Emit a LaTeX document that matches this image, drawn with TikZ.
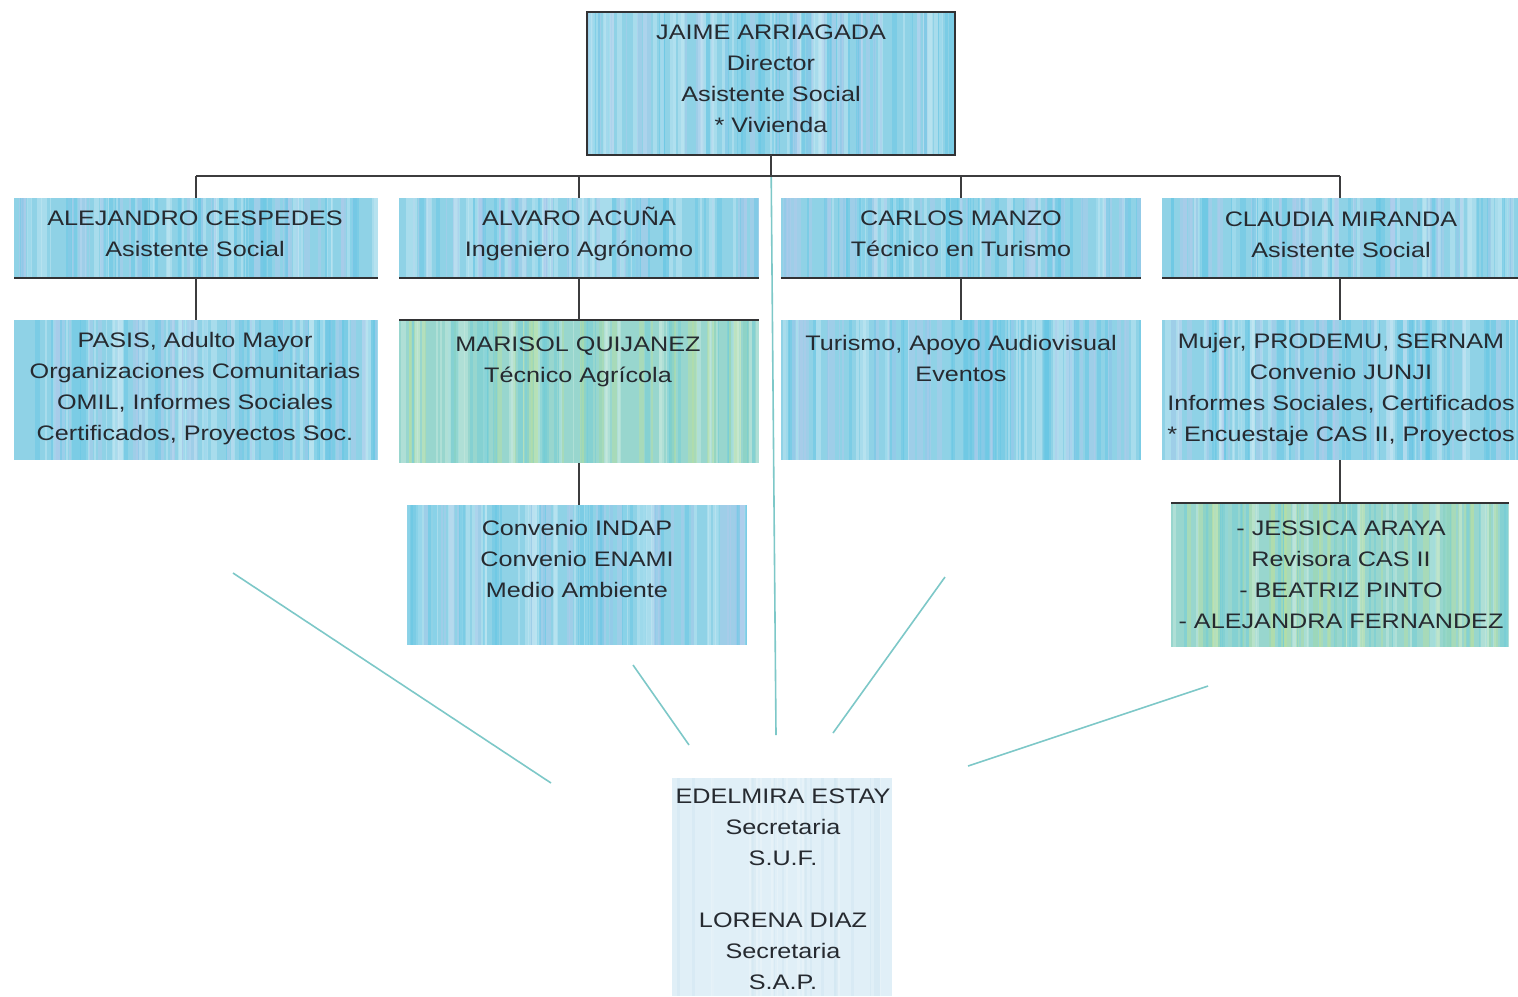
\documentclass[tikz,border=0pt]{standalone}
\usepackage{fontspec}
\setmainfont[FakeStretch=1.2]{Liberation Sans}
\usetikzlibrary{calc}
\definecolor{txtc}{RGB}{38,42,48}
\definecolor{darkln}{RGB}{50,50,52}
\definecolor{connc}{RGB}{60,60,62}
\definecolor{tealc}{RGB}{125,200,200}
\definecolor{bbase}{RGB}{143,210,230}
\definecolor{blight}{RGB}{200,234,244}
\definecolor{bdark}{RGB}{100,198,228}
\definecolor{blav}{RGB}{178,202,236}
\definecolor{gbase}{RGB}{152,214,206}
\definecolor{gyel}{RGB}{186,224,160}
\definecolor{gteal}{RGB}{112,204,216}
\definecolor{glight}{RGB}{205,236,224}
\definecolor{sbase}{RGB}{224,239,247}
\definecolor{slight}{RGB}{238,246,250}
\definecolor{sdark}{RGB}{208,230,241}
\newcommand\streakfill[4]{%
  \foreach \k in {1,...,#4}{%
    \pgfmathsetmacro\pa{rnd}%
    \pgfmathsetmacro\pb{min(1,\pa+0.004+0.014*rnd)}%
    \pgfmathtruncatemacro\pc{3*rnd}%
    \ifcase\pc\def\sc{#1}\or\def\sc{#2}\else\def\sc{#3}\fi
    \fill[\sc, opacity=0.45]
      ($(path picture bounding box.south west)!\pa!(path picture bounding box.south east)$)
      rectangle
      ($(path picture bounding box.north west)!\pb!(path picture bounding box.north east)$);
  }}
\newcommand\mkbox[6]{\node[#6, anchor=north west, minimum width={(#4-#2)*0.5pt}, minimum height={(#5-#3)*0.5pt}] (#1) at (#2,#3) {};}
\tikzset{
  bluebox/.style={rectangle, inner sep=0pt, outer sep=0pt, fill=bbase,
    path picture={\streakfill{blight}{bdark}{blav}{100}}},
  topbox/.style={rectangle, inner sep=0pt, outer sep=0pt, fill=bbase, draw=darkln, line width=1.2pt,
    path picture={\streakfill{blight}{blav}{bdark}{120}}},
  greenbox/.style={rectangle, inner sep=0pt, outer sep=0pt, fill=gbase,
    path picture={\streakfill{gyel}{gteal}{glight}{110}}},
  secbox/.style={rectangle, inner sep=0pt, outer sep=0pt, fill=sbase,
    path picture={\streakfill{slight}{sdark}{sbase}{40}}},
  txt/.style={align=center, text=txtc, inner sep=0pt, font=\fontsize{10.5}{15.5}\selectfont},
  darkline/.style={darkln, line width=1.4pt},
  conn/.style={connc, line width=0.8pt},
  teal/.style={tealc, line width=0.8pt}
}
\begin{document}
\begin{tikzpicture}[x=0.5pt, y=-0.5pt]
\pgfmathsetseed{11}
\useasboundingbox (0,0) rectangle (1518,996);
\fill[white] (0,0) rectangle (1518,996);

% boxes
\mkbox{top}{587}{12}{955}{155}{topbox}
\mkbox{alej}{14}{198}{378}{278}{bluebox}
\mkbox{alv}{399}{198}{759}{278}{bluebox}
\mkbox{car}{781}{198}{1141}{278}{bluebox}
\mkbox{cla}{1162}{198}{1518}{278}{bluebox}
\mkbox{pasis}{14}{320}{378}{460}{bluebox}
\mkbox{mar}{399}{320}{759}{463}{greenbox}
\mkbox{tur}{781}{320}{1141}{460}{bluebox}
\mkbox{muj}{1162}{320}{1518}{460}{bluebox}
\mkbox{conv}{407}{505}{747}{645}{bluebox}
\mkbox{jes}{1171}{503}{1509}{647}{greenbox}
\mkbox{sec}{672}{778}{892}{996}{secbox}

% dark edge lines
\draw[darkline] (alej.south west) -- (alej.south east);
\draw[darkline] (alv.south west) -- (alv.south east);
\draw[darkline] (car.south west) -- (car.south east);
\draw[darkline] (cla.south west) -- (cla.south east);
\draw[darkline] (mar.north west) -- (mar.north east);
\draw[darkline] (jes.north west) -- (jes.north east);

% teal lines towards the secretaries
\coordinate (t1a) at (233,573); \coordinate (t1b) at (551,783);
\coordinate (t2a) at (633,665); \coordinate (t2b) at (689,745);
\coordinate (t3b) at (776,735);
\coordinate (t4a) at (945,577); \coordinate (t4b) at (833,733);
\coordinate (t5a) at (1208,686); \coordinate (t5b) at (968,766);
\draw[teal] (t1a) -- (t1b);
\draw[teal] (t2a) -- (t2b);
\draw[teal] (top.south) -- (t3b);
\draw[teal] (t4a) -- (t4b);
\draw[teal] (t5a) -- (t5b);

% tree connectors
\coordinate (busc) at (771,176);
\draw[conn] (top.south) -- (busc);
\draw[conn] (alej.north |- busc) -- (cla.north |- busc);
\draw[conn] (alej.north |- busc) -- (alej.north);
\draw[conn] (alv.north |- busc) -- (alv.north);
\draw[conn] (car.north |- busc) -- (car.north);
\draw[conn] (cla.north |- busc) -- (cla.north);
\draw[conn] (alej.south) -- (pasis.north);
\draw[conn] (alv.south) -- (mar.north);
\draw[conn] (car.south) -- (tur.north);
\draw[conn] (cla.south) -- (muj.north);
\draw[conn] (mar.south) -- (mar.south |- conv.north);
\draw[conn] (muj.south) -- (muj.south |- jes.north);

% texts
\node[txt] (ttop) at (771,79) {JAIME ARRIAGADA\\Director\\Asistente Social\\* Vivienda};
\node[txt] (talej) at (195,234) {ALEJANDRO CESPEDES\\Asistente Social};
\node[txt] (talv) at (579,234) {ALVARO ACUÑA\\Ingeniero Agrónomo};
\node[txt] (tcar) at (961,234) {CARLOS MANZO\\Técnico en Turismo};
\node[txt] (tcla) at (1341,235) {CLAUDIA MIRANDA\\Asistente Social};
\node[txt] (tpasis) at (195,389) {PASIS, Adulto Mayor\\Organizaciones Comunitarias\\OMIL, Informes Sociales\\Certificados, Proyectos Soc.};
\node[txt] (tmar) at (578,362) {MARISOL QUIJANEZ\\Técnico Agrícola};
\node[txt] (ttur) at (961,358) {Turismo, Apoyo Audiovisual\\Eventos};
\node[txt] (tmuj) at (1341,390) {Mujer, PRODEMU, SERNAM\\Convenio JUNJI\\Informes Sociales, Certificados\\* Encuestaje CAS II, Proyectos};
\node[txt] (tconv) at (577,559) {Convenio INDAP\\Convenio ENAMI\\Medio Ambiente};
\node[txt] (tjes) at (1341,575) {- JESSICA ARAYA\\Revisora CAS II\\- BEATRIZ PINTO\\- ALEJANDRA FERNANDEZ};
\node[txt] (tsec) at (783,889) {EDELMIRA ESTAY\\Secretaria\\S.U.F.\\[15.5pt]LORENA DIAZ\\Secretaria\\S.A.P.};
\end{tikzpicture}
\end{document}
